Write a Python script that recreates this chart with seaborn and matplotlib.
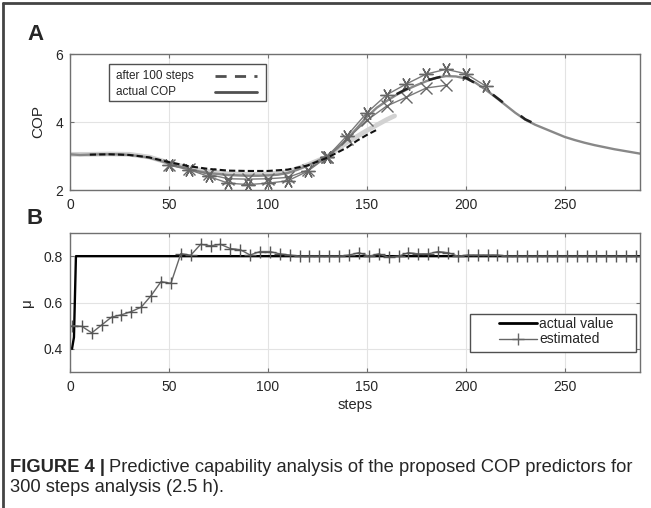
import numpy as np
import matplotlib
matplotlib.use('Agg')
import matplotlib.pyplot as plt
from matplotlib.lines import Line2D
from matplotlib.patches import Rectangle
import seaborn as sns

# ---------------- data ----------------
# panel A: actual COP
cop_steps = [0, 5, 10, 15, 20, 25, 30, 35, 40, 45, 50, 55, 60, 65, 70, 75, 80, 85, 90, 95,
             100, 105, 110, 115, 120, 125, 130, 135, 140, 145, 150, 155, 160, 165, 170, 175,
             180, 185, 190, 195, 200, 205, 210, 215, 220, 225, 230, 235, 240, 245, 250, 255,
             260, 265, 270, 275, 280, 285, 288]
cop_actual = [3.05, 3.03, 3.04, 3.05, 3.05, 3.05, 3.03, 3.0, 2.95, 2.87, 2.78, 2.7, 2.62, 2.55,
              2.5, 2.47, 2.44, 2.43, 2.42, 2.42, 2.43, 2.45, 2.5, 2.6, 2.72, 2.85, 3.0, 3.22,
              3.5, 3.82, 4.15, 4.42, 4.62, 4.8, 4.95, 5.08, 5.2, 5.3, 5.35, 5.34, 5.28, 5.15,
              4.95, 4.73, 4.5, 4.27, 4.07, 3.92, 3.8, 3.68, 3.56, 3.47, 3.39, 3.32, 3.26, 3.2,
              3.15, 3.1, 3.07]

# light grey prediction
light_steps = [0, 10, 20, 30, 40, 50, 60, 70, 80, 90, 100, 110, 120, 130, 140, 150, 160, 164]
light_vals = [3.05, 3.05, 3.06, 3.05, 2.97, 2.8, 2.65, 2.54, 2.48, 2.46, 2.47, 2.53, 2.74, 2.98,
              3.4, 3.75, 4.07, 4.18]

# after 100 steps (dashed)
dash_steps = [10, 20, 30, 40, 50, 60, 70, 80, 90, 100, 110, 120, 130, 140, 145, 150, 155]
dash_vals = [3.04, 3.05, 3.03, 2.96, 2.82, 2.7, 2.62, 2.57, 2.56, 2.56, 2.6, 2.72, 2.95, 3.25,
             3.45, 3.62, 3.77]
dash2_steps = [165, 170, 180, 190, 200, 210, 220, 230, 240]
dash2_vals = [4.82, 4.97, 5.22, 5.37, 5.3, 4.97, 4.52, 4.08, 3.81]

# asterisk predictions
star1_steps = [50, 60, 70, 80, 90, 100, 110, 120, 130]
star1_vals = [2.73, 2.6, 2.4, 2.2, 2.16, 2.2, 2.27, 2.55, 2.98]
star2_steps = [130, 140, 150, 160, 170, 180, 190, 200, 210]
star2_vals = [2.98, 3.6, 4.27, 4.8, 5.12, 5.41, 5.55, 5.42, 5.06]

# cross predictions
cross1_steps = [50, 60, 70, 80, 90, 100, 110, 120, 130]
cross1_vals = [2.73, 2.63, 2.46, 2.33, 2.32, 2.33, 2.37, 2.58, 2.98]
cross2_steps = [130, 140, 150, 160, 170, 180, 190]
cross2_vals = [2.98, 3.5, 4.05, 4.47, 4.73, 5.0, 5.08]

# panel B
mu_actual_steps = [1, 2, 3, 288]
mu_actual = [0.4, 0.45, 0.8, 0.8]
mu_est_steps = list(range(1, 290, 5))
mu_est = [0.50, 0.497, 0.469, 0.503, 0.537, 0.547, 0.561, 0.58, 0.63, 0.69, 0.683, 0.811,
          0.804, 0.851, 0.845, 0.851, 0.833, 0.828, 0.805, 0.82, 0.82, 0.81, 0.805, 0.80,
          0.80, 0.80, 0.80, 0.80, 0.805, 0.815, 0.80, 0.81, 0.795, 0.80, 0.815, 0.81, 0.81,
          0.82, 0.815, 0.80, 0.805, 0.805, 0.805, 0.805, 0.80, 0.80, 0.80, 0.80, 0.80, 0.80,
          0.80, 0.80, 0.80, 0.80, 0.80, 0.80, 0.80, 0.80]

x_ticks = [0, 50, 100, 150, 200, 250]

# ---------------- style ----------------
sns.set_style('whitegrid', {'grid.color': '#e3e3e3', 'axes.edgecolor': '#707070'})
plt.rcParams['font.family'] = ['Liberation Sans', 'DejaVu Sans']

W, H = 651, 508
fig = plt.figure(figsize=(W / 100, H / 100), dpi=100)
L, R = 70, 640
A_top, A_bot = 54, 190
B_top, B_bot = 233, 372
axA = fig.add_axes([L / W, 1 - A_bot / H, (R - L) / W, (A_bot - A_top) / H])
axB = fig.add_axes([L / W, 1 - B_bot / H, (R - L) / W, (B_bot - B_top) / H])


def to_axes(x, y, top, bot):
    # figure pixel (from top-left) -> axes fraction
    return (x - L) / (R - L), (bot - y) / (bot - top)


grey = '#7a7a7a'
ast = (6, 2, 90)

# ---- panel A ----
sns.lineplot(x=light_steps, y=light_vals, ax=axA, color='#d2d2d2', lw=3.4, estimator=None)
sns.lineplot(x=cop_steps, y=cop_actual, ax=axA, color='#888888', lw=1.7, estimator=None)
sns.lineplot(x=cross1_steps, y=cross1_vals, ax=axA, color=grey, lw=1.0, marker='x',
             markersize=8, mec='#666666', mew=1.0, estimator=None)
sns.lineplot(x=cross2_steps, y=cross2_vals, ax=axA, color=grey, lw=1.0, marker='x',
             markersize=8, mec='#666666', mew=1.0, estimator=None)
sns.lineplot(x=star1_steps, y=star1_vals, ax=axA, color=grey, lw=1.0, marker=ast,
             markersize=10, mec='#666666', mew=1.0, estimator=None)
sns.lineplot(x=star2_steps, y=star2_vals, ax=axA, color=grey, lw=1.0, marker=ast,
             markersize=10, mec='#666666', mew=1.0, estimator=None)
sns.lineplot(x=dash_steps, y=dash_vals, ax=axA, color='#111111', lw=1.5, estimator=None)
axA.lines[-1].set_dashes([3, 1.5])
sns.lineplot(x=dash2_steps, y=dash2_vals, ax=axA, color='#222222', lw=1.8, estimator=None)
axA.lines[-1].set_dashes([5, 9])

axA.set_xlim(0, 288)
axA.set_ylim(2, 6)
axA.set_xticks(x_ticks)
axA.set_yticks([2, 4, 6])
axA.set_ylabel('COP', fontsize=11, labelpad=7)
axA.set_xlabel('')

# legend A: box, left-aligned labels, handles on the right
bx0, by0 = to_axes(109, 101, A_top, A_bot)
bx1, by1 = to_axes(266, 64, A_top, A_bot)
axA.add_patch(Rectangle((bx0, by0), bx1 - bx0, by1 - by0, transform=axA.transAxes,
                        facecolor='white', edgecolor='#505050', lw=1.0, zorder=4.5,
                        clip_on=False))
leg_rows = [('after 100 steps', (0, (4, 3)), 76), ('actual COP', '-', 92)]
for label, ls, row_y in leg_rows:
    tx, ty = to_axes(116, row_y, A_top, A_bot)
    axA.text(tx, ty, label, transform=axA.transAxes, fontsize=8.5, ha='left', va='center',
             zorder=5)
    hx0, _ = to_axes(215, row_y, A_top, A_bot)
    hx1, _ = to_axes(257, row_y, A_top, A_bot)
    axA.add_line(Line2D([hx0, hx1], [ty, ty], transform=axA.transAxes, color='#505050',
                        lw=2, ls=ls, zorder=5, clip_on=False))

# ---- panel B ----
sns.lineplot(x=mu_actual_steps, y=mu_actual, ax=axB, color='black', lw=1.7, estimator=None)
sns.lineplot(x=mu_est_steps, y=mu_est, ax=axB, color='#666666', lw=1.0, marker='+',
             markersize=9, mew=1.0, mec='#555555', estimator=None)
axB.set_xlim(0, 288)
axB.set_ylim(0.3, 0.9)
axB.set_xticks(x_ticks)
axB.set_yticks([0.4, 0.6, 0.8])
axB.set_xlabel('steps', fontsize=10.5, labelpad=3)
axB.set_ylabel('μ', fontsize=11, labelpad=7)

legB = [Line2D([], [], color='black', lw=2),
        Line2D([], [], color='#666666', lw=1, marker='+', markersize=9, mew=1)]
lx, ly = to_axes(499, 317, B_top, B_bot)
lgb = axB.legend(legB, ['actual value', 'estimated'], loc='upper left',
                 bbox_to_anchor=(lx, ly), fontsize=10, frameon=False, borderpad=0,
                 labelspacing=0.1, handlelength=2.75, handletextpad=0.15, borderaxespad=0)
bx0, by0 = to_axes(470, 352, B_top, B_bot)
bx1, by1 = to_axes(636, 314, B_top, B_bot)
axB.add_patch(Rectangle((bx0, by0), bx1 - bx0, by1 - by0, transform=axB.transAxes,
                        facecolor='white', edgecolor='#505050', lw=1.0, zorder=4.5,
                        clip_on=False))

for ax in (axA, axB):
    ax.tick_params(axis='both', direction='in', length=3, color='#707070', labelsize=10,
                   bottom=True, left=True, top=True, right=True)
    ax.tick_params(axis='x', pad=6)
    ax.tick_params(axis='y', pad=5)
    ax.grid(True, color='#e3e3e3', lw=0.8)
    for s in ax.spines.values():
        s.set_linewidth(1.0)
        s.set_color('#707070')

fig.text(27 / W, 1 - 35 / H, 'A', fontsize=16, fontweight='bold', ha='left', va='center')
fig.text(27 / W, 1 - 219 / H, 'B', fontsize=16, fontweight='bold', ha='left', va='center')

# caption
cap_fs = 13.2
t1 = fig.text(10 / W, 1 - 468 / H, 'FIGURE 4 |', fontsize=cap_fs, fontweight='bold',
              ha='left', va='center')
fig.canvas.draw()
bb = t1.get_window_extent()
fig.text((bb.x1 + 4) / W, 1 - 468 / H,
         'Predictive capability analysis of the proposed COP predictors for',
         fontsize=cap_fs, ha='left', va='center')
fig.text(10 / W, 1 - 488 / H, '300 steps analysis (2.5 h).', fontsize=cap_fs,
         ha='left', va='center')

# frame lines on left and top
fig.add_artist(Line2D([3 / W, 3 / W], [0, 1 - 3 / H], color='#444444', lw=2))
fig.add_artist(Line2D([3 / W, 1], [1 - 3 / H, 1 - 3 / H], color='#444444', lw=2))

fig.savefig('out.png', dpi=100)
